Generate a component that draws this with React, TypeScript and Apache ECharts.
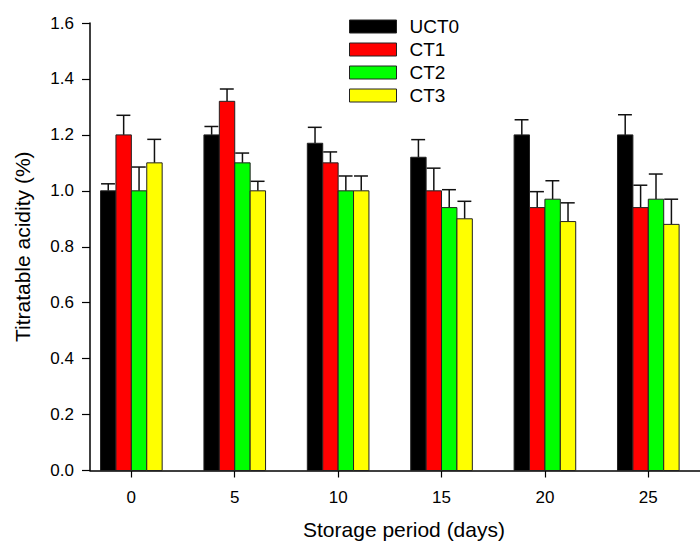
import React, { useEffect, useRef } from "react";
import * as echarts from "echarts";

const days = [0, 5, 10, 15, 20, 25];
const seriesNames = ["UCT0", "CT1", "CT2", "CT3"];
const colors = ["#000000", "#ff0000", "#00ff00", "#ffff00"];

const uct0 = [1.0, 1.2, 1.17, 1.12, 1.2, 1.2];
const uct0Err = [0.025, 0.03, 0.057, 0.063, 0.054, 0.072];
const ct1 = [1.2, 1.32, 1.1, 1.0, 0.94, 0.94];
const ct1Err = [0.07, 0.044, 0.039, 0.081, 0.057, 0.08];
const ct2 = [1.0, 1.1, 1.0, 0.94, 0.97, 0.97];
const ct2Err = [0.085, 0.035, 0.053, 0.064, 0.066, 0.09];
const ct3 = [1.1, 1.0, 1.0, 0.9, 0.89, 0.88];
const ct3Err = [0.084, 0.034, 0.053, 0.0625, 0.067, 0.09];

const yTicks = ["0.0", "0.2", "0.4", "0.6", "0.8", "1.0", "1.2", "1.4", "1.6"];

const means = [uct0, ct1, ct2, ct3];
const errs = [uct0Err, ct1Err, ct2Err, ct3Err];

const FONT = "'Liberation Sans', Arial, Helvetica, sans-serif";
const BAR_UNITS = 0.745;

export default function App() {
  const ref = useRef<HTMLDivElement>(null);
  useEffect(() => {
    document.body.style.margin = "0";
    const chart = echarts.init(ref.current!, null, { renderer: "svg" });
    const series = seriesNames.map((name, si) => ({
      name,
      type: "custom",
      itemStyle: { color: colors[si], borderColor: "#222", borderWidth: 1 },
      encode: { x: 0, y: 1 },
      data: days.map((d, i) => [d, means[si][i], errs[si][i]]),
      renderItem: (params: any, api: any) => {
        const x = api.value(0);
        const y = api.value(1);
        const e = api.value(2);
        const base = api.coord([x, 0]);
        const top = api.coord([x, y]);
        const et = api.coord([x, y + e]);
        const bw = api.size([BAR_UNITS, 0])[0];
        const left = base[0] - 2 * bw + si * bw;
        const cx = left + bw / 2;
        return {
          type: "group",
          children: [
            {
              type: "line",
              shape: { x1: cx, y1: top[1], x2: cx, y2: et[1] },
              style: { stroke: "#111", lineWidth: 1.5 },
            },
            {
              type: "line",
              shape: { x1: left + 0.5, y1: et[1], x2: left + bw - 1, y2: et[1] },
              style: { stroke: "#111", lineWidth: 1.5 },
            },
            {
              type: "rect",
              shape: { x: left, y: top[1], width: bw, height: base[1] - top[1] },
              style: { fill: colors[si], stroke: "#222", lineWidth: 1 },
            },
          ],
        };
      },
    }));

    chart.setOption({
      animation: false,
      backgroundColor: "#ffffff",
      textStyle: { fontFamily: FONT },
      grid: { left: 90, right: 0, top: 23, bottom: 71.5 },
      legend: {
        orient: "vertical",
        left: 349,
        top: 17,
        padding: 0,
        icon: "rect",
        itemWidth: 47,
        itemHeight: 13,
        itemGap: 4,
        itemStyle: { borderColor: "#222", borderWidth: 1 },
        textStyle: { fontSize: 19, color: "#000", fontFamily: FONT, padding: [0, 0, 0, 8] },
        data: seriesNames,
      },
      graphic: [
        {
          type: "text",
          x: 404,
          y: 529,
          style: {
            text: "Storage period (days)",
            fontSize: 21,
            fontFamily: FONT,
            fill: "#000",
            align: "center",
            verticalAlign: "middle",
          },
        },
      ],
      xAxis: {
        type: "value",
        min: -2,
        max: 27.5,
        axisLine: { onZero: false, lineStyle: { color: "#000", width: 1.5 } },
        axisTick: { customValues: days, length: 7, lineStyle: { color: "#000", width: 1.2 } },
        axisLabel: { customValues: days, fontSize: 17, color: "#000", margin: 18, fontFamily: FONT },
        splitLine: { show: false },
      },
      yAxis: {
        type: "value",
        min: 0,
        max: 1.6,
        interval: 0.2,
        name: "Titratable acidity (%)",
        nameLocation: "middle",
        nameGap: 57,
        nameTextStyle: { fontSize: 21, color: "#000", fontFamily: FONT },
        axisLine: { show: true, onZero: false, lineStyle: { color: "#000", width: 1.5 } },
        axisTick: { show: true, length: 8, lineStyle: { color: "#000", width: 1.2 } },
        axisLabel: {
          fontSize: 17,
          color: "#000",
          margin: 16,
          fontFamily: FONT,
          formatter: (v: number) => yTicks[Math.round(v / 0.2)] ?? v.toFixed(1),
        },
        splitLine: { show: false },
      },
      series,
    });
    return () => chart.dispose();
  }, []);
  return <div ref={ref} style={{ width: 700, height: 542 }} />;
}
